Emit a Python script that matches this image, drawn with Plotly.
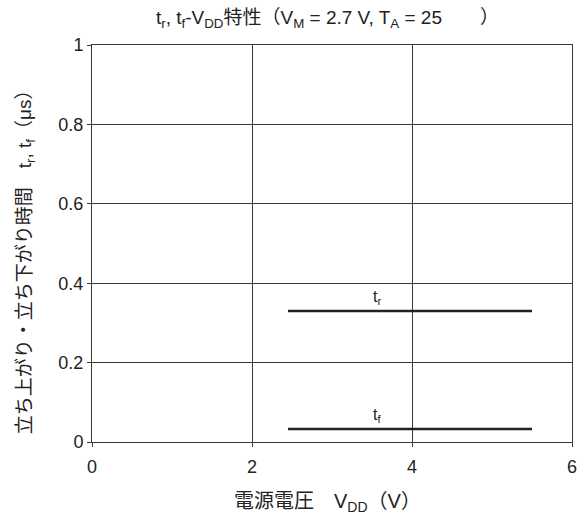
import plotly.graph_objects as go

# Supply-voltage range measured and the resulting rise/fall times
vdd_range = [2.45, 5.5]
tr_values = [0.33, 0.33]
tf_values = [0.033, 0.033]

x_ticks = [0, 2, 4, 6]
y_ticks = [0, 0.2, 0.4, 0.6, 0.8, 1]
y_tick_text = ["0", "0.2", "0.4", "0.6", "0.8", "1"]

FONT = "Liberation Sans, Arial, Noto Sans CJK JP"
TEXT = "#222222"
GRID = "#3a3a3a"

fig = go.Figure()
fig.add_trace(go.Scatter(x=vdd_range, y=tr_values, mode="lines",
                         line=dict(color="#222222", width=2.5), showlegend=False))
fig.add_trace(go.Scatter(x=vdd_range, y=tf_values, mode="lines",
                         line=dict(color="#222222", width=2.5), showlegend=False))

label_x = 3.56
fig.add_annotation(x=label_x, y=tr_values[0], text="t<sub>r</sub>", showarrow=False,
                   yanchor="bottom", yshift=2, font=dict(family=FONT, size=16, color=TEXT))
fig.add_annotation(x=label_x, y=tf_values[0], text="t<sub>f</sub>", showarrow=False,
                   yanchor="bottom", yshift=2, font=dict(family=FONT, size=16, color=TEXT))

# Titles
fig.add_annotation(xref="paper", yref="paper", x=0.49, y=1.0, yshift=40,
                   text="t<sub>r</sub>, t<sub>f</sub>-V<sub>DD</sub>特性（V<sub>M</sub> = 2.7 V, T<sub>A</sub> = 25　　）",
                   showarrow=False, font=dict(family=FONT, size=19, color=TEXT))
fig.add_annotation(xref="paper", yref="paper", x=-0.165, y=0.465, textangle=-90,
                   text="立ち上がり・立ち下がり時間　t<sub>r</sub>, t<sub>f</sub>（μs）",
                   showarrow=False, font=dict(family=FONT, size=19, color=TEXT))
fig.add_annotation(xref="paper", yref="paper", x=0.49, y=0, yshift=-75,
                   text="電源電圧　V<sub>DD</sub>（V）",
                   showarrow=False, font=dict(family=FONT, size=20, color=TEXT))

fig.update_xaxes(range=[0, 6], tickvals=x_ticks, showgrid=True, gridcolor=GRID, gridwidth=1,
                 showline=True, linecolor=GRID, linewidth=1, mirror=True,
                 ticks="outside", ticklen=4, tickcolor=GRID, zeroline=False,
                 ticklabelstandoff=4,
                 tickfont=dict(family=FONT, size=18, color=TEXT))
fig.update_yaxes(range=[0, 1], tickvals=y_ticks, ticktext=y_tick_text, showgrid=True,
                 gridcolor=GRID, gridwidth=1, showline=True, linecolor=GRID, linewidth=1,
                 mirror=True, ticks="outside", ticklen=4, tickcolor=GRID, zeroline=False,
                 tickfont=dict(family=FONT, size=18, color=TEXT))

fig.update_layout(width=585, height=521, plot_bgcolor="white", paper_bgcolor="white",
                  margin=dict(l=92, r=13, t=45, b=79, autoexpand=False))

fig.write_html("out.html")
